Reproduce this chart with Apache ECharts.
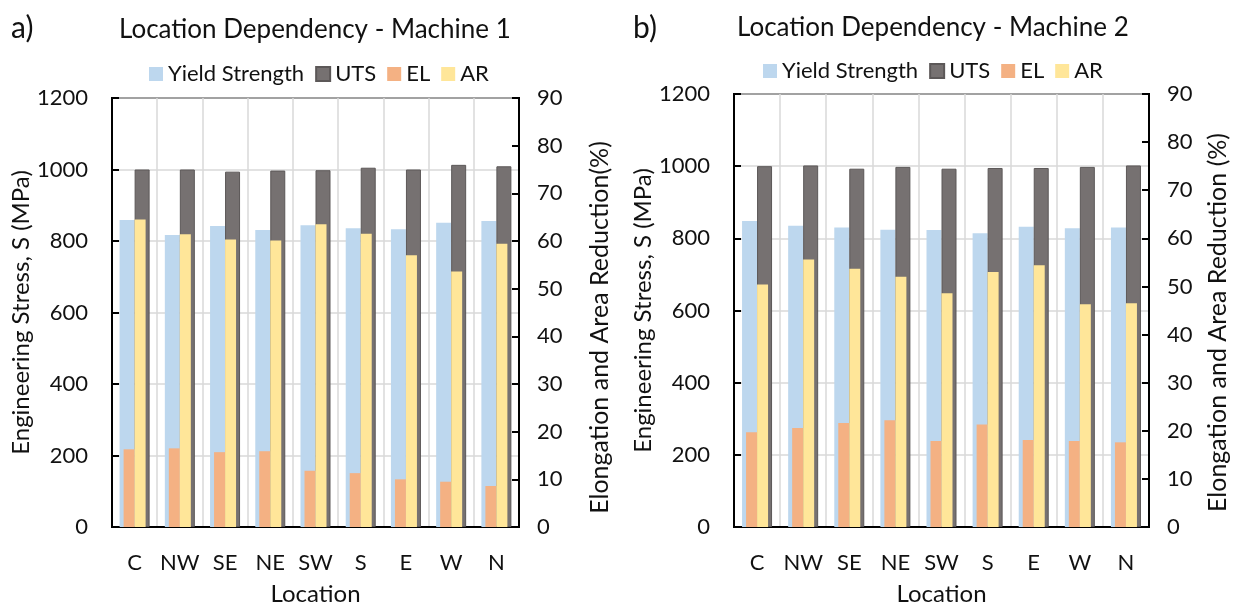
<!DOCTYPE html>
<html><head><meta charset="utf-8">
<script src="https://cdn.jsdelivr.net/npm/echarts@6/dist/echarts.min.js"></script>
<style>html,body{margin:0;padding:0;background:#fff}#c{width:1237px;height:611px}</style>
</head><body><div id="c"></div>
<script>
const categories = ['C','NW','SE','NE','SW','S','E','W','N'];
// Machine 1
const ysA  = [859, 817, 842, 831, 844, 836, 833, 851, 856];
const utsA = [1000, 1000, 994, 997, 998, 1005, 1000, 1013, 1009];
const elA  = [16.3, 16.5, 15.7, 15.9, 11.8, 11.3, 10.0, 9.5, 8.6];
const arA  = [64.5, 61.4, 60.3, 60.1, 63.5, 61.5, 57.0, 53.6, 59.4];
// Machine 2
const ysB  = [848, 835, 830, 824, 823, 814, 832, 828, 830];
const utsB = [1000, 1002, 993, 998, 993, 995, 995, 998, 1002];
const elB  = [19.7, 20.6, 21.6, 22.2, 17.9, 21.3, 18.1, 17.9, 17.6];
const arB  = [50.4, 55.6, 53.7, 52.0, 48.6, 53.0, 54.4, 46.3, 46.5];

const FONT = 'Lato';
const C_YS = '#BDD7EE', C_UTS = '#767171', C_EL = '#F4B183', C_AR = '#FFE699';

function xAxes(grid) {
  return [
    { type:'category', gridIndex:grid, data:categories, boundaryGap:true,
      axisLine:{show:true, lineStyle:{color:'#000', width:2}},
      axisTick:{show:false},
      axisLabel:{color:'#111', fontSize:22, fontFamily:FONT, margin:25, interval:0},
      splitLine:{show:true, lineStyle:{color:'#d9d9d9', width:1.5}},
      name:'Location', nameLocation:'middle', nameGap:55,
      nameTextStyle:{color:'#111', fontSize:24, fontFamily:FONT} },
    { type:'category', gridIndex:grid, data:categories, show:false }
  ];
}
function yAxes(grid, leftName, rightName, rGap, rPad) {
  return [
    { type:'value', gridIndex:grid, position:'left', min:0, max:1200, interval:200,
      axisLine:{show:true, lineStyle:{color:'#000', width:2}},
      axisTick:{show:true, inside:true, length:7, lineStyle:{color:'#000', width:2}},
      axisLabel:{color:'#111', fontSize:22, fontFamily:FONT, margin:24, formatter:(v)=>String(v)},
      splitLine:{show:true, lineStyle:{color:'#d9d9d9', width:1.5}},
      name:leftName, nameLocation:'middle', nameRotate:90, nameGap:76,
      nameTextStyle:{color:'#111', fontSize:24, fontFamily:FONT} },
    { type:'value', gridIndex:grid, position:'right', min:0, max:90, interval:10,
      axisLine:{show:true, lineStyle:{color:'#000', width:2}},
      axisTick:{show:true, inside:true, length:7, lineStyle:{color:'#000', width:2}},
      axisLabel:{color:'#111', fontSize:22, fontFamily:FONT, margin:18},
      splitLine:{show:false},
      name:rightName, nameLocation:'middle', nameRotate:90, nameGap:rGap,
      nameTextStyle:{color:'#111', fontSize:25, fontFamily:FONT, padding:[0, rPad, 0, 0]} }
  ];
}
function seriesFor(off, ys, uts, el, ar) {
  return [
    { name:'Yield Strength', type:'bar', xAxisIndex:off, yAxisIndex:off, data:ys,
      barWidth:15, barGap:'0%', itemStyle:{color:C_YS}, z:2 },
    { name:'UTS', type:'bar', xAxisIndex:off, yAxisIndex:off, data:uts,
      barWidth:15, barGap:'0%', itemStyle:{color:C_UTS, borderColor:'#5c5858', borderWidth:1}, z:2 },
    { name:'EL', type:'bar', xAxisIndex:off+1, yAxisIndex:off+1, data:el,
      barWidth:11, barGap:'0%', itemStyle:{color:C_EL}, z:3 },
    { name:'AR', type:'bar', xAxisIndex:off+1, yAxisIndex:off+1, data:ar,
      barWidth:11, barGap:'0%', itemStyle:{color:C_AR}, z:3 }
  ];
}

const chart = echarts.init(document.getElementById('c'), null, {renderer:'canvas'});
const legendBase = {
  data:['Yield Strength','UTS','EL','AR'], icon:'rect', itemWidth:14, itemHeight:14, itemGap:11,
  textStyle:{color:'#111', fontSize:22, fontFamily:FONT}, selectedMode:false
};
chart.setOption({
  animation:false,
  color:[C_YS, C_UTS, C_EL, C_AR],
  title:[
    { text:'a)', left:6, top:8, textStyle:{color:'#111', fontSize:30, fontWeight:'normal', fontFamily:FONT} },
    { text:'Location Dependency - Machine 1', left:114, top:12, textStyle:{color:'#111', fontSize:26, fontWeight:'normal', fontFamily:FONT} },
    { text:'b)', left:628, top:8, textStyle:{color:'#111', fontSize:30, fontWeight:'normal', fontFamily:FONT} },
    { text:'Location Dependency - Machine 2', left:732, top:10, textStyle:{color:'#111', fontSize:26, fontWeight:'normal', fontFamily:FONT} }
  ],
  legend:[
    Object.assign({left:144, top:58}, legendBase),
    Object.assign({left:758, top:55}, legendBase)
  ],
  grid:[
    { left:112, top:98, width:407, height:435, show:true, borderColor:'#000', borderWidth:2, backgroundColor:'transparent' },
    { left:734, top:94, width:415, height:439, show:true, borderColor:'#000', borderWidth:2, backgroundColor:'transparent' }
  ],
  xAxis: xAxes(0).concat(xAxes(1)),
  yAxis: yAxes(0, 'Engineering Stress, S (MPa)', 'Elongation and Area Reduction(%)', 68, 30)
    .concat(yAxes(1, 'Engineering Stress, S (MPa)', 'Elongation and Area Reduction (%)', 56, 24)),
  series: seriesFor(0, ysA, utsA, elA, arA).concat(seriesFor(2, ysB, utsB, elB, arB))
});
</script></body></html>
